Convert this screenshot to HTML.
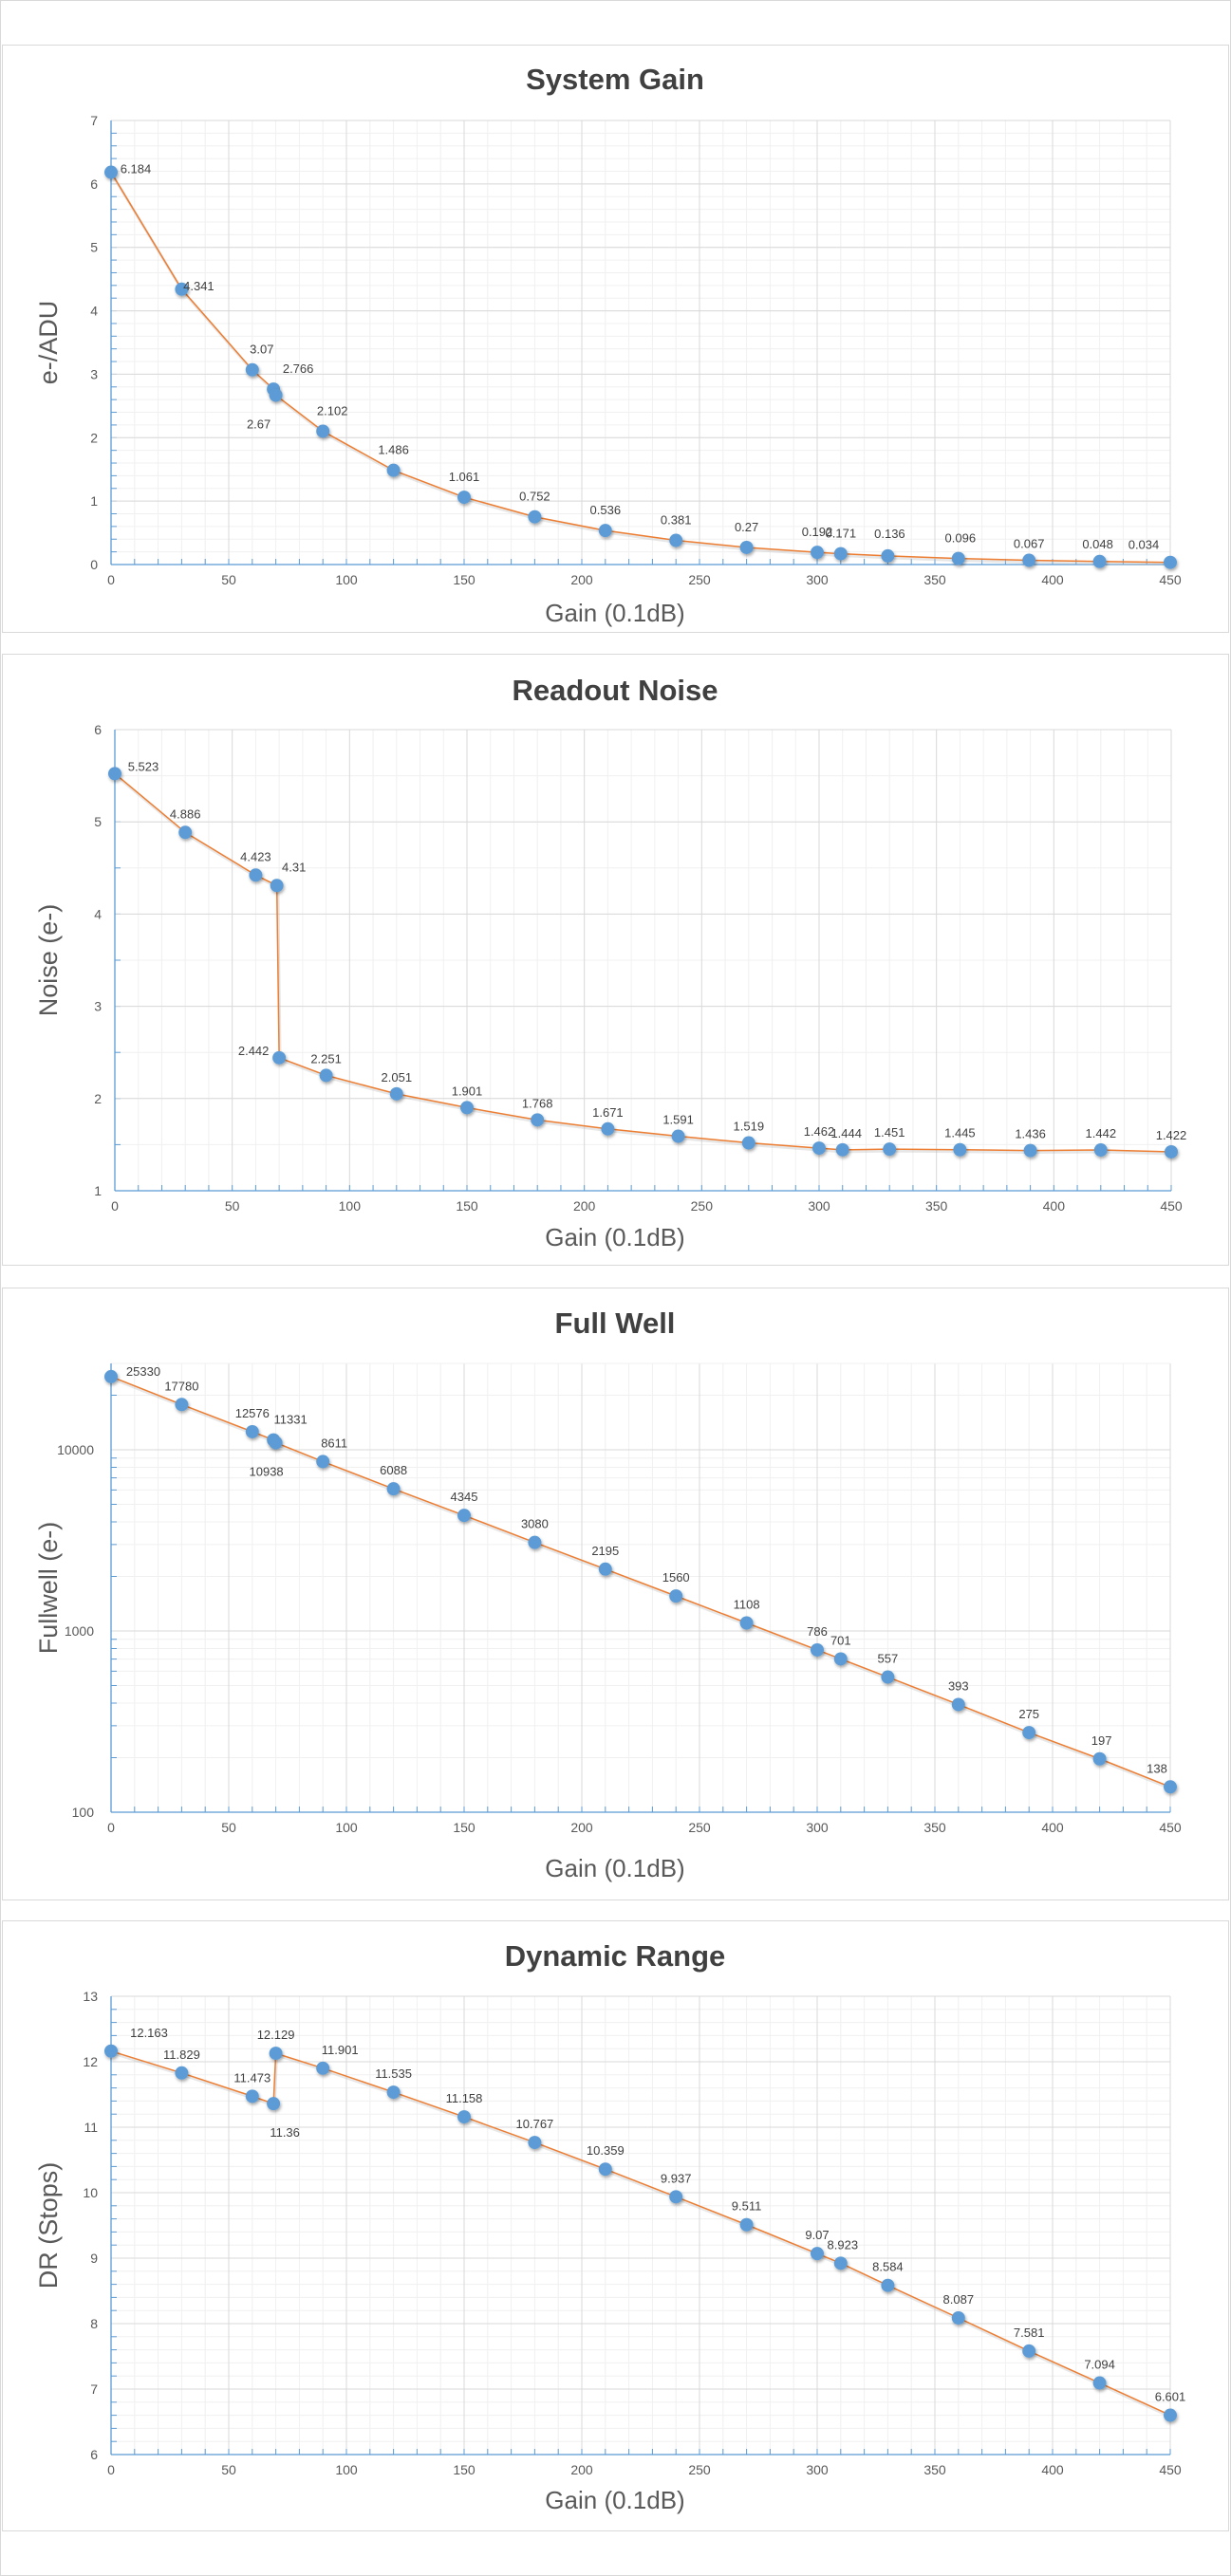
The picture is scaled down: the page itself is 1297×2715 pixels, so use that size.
<!DOCTYPE html>
<html><head><meta charset="utf-8"><style>
html,body{margin:0;padding:0;background:#fff;}
svg{display:block;}
</style></head><body>
<svg id="s" width="1297" height="2715" xmlns="http://www.w3.org/2000/svg" font-family="Liberation Sans, sans-serif"></svg>
<script>
const s=document.getElementById('s');
let h='';
h+='<defs><filter id="sh" x="-50%" y="-50%" width="200%" height="200%"><feDropShadow dx="1" dy="2" stdDeviation="1.5" flood-color="#000" flood-opacity="0.35"/></filter></defs>';
const panels=[[47,666],[689,1333],[1357,2002],[2024,2667]];
h+='<rect x="0.5" y="0.5" width="1296" height="2714" fill="none" stroke="#d9d9d9"/>';
panels.forEach(p=>{h+=`<rect x="2.5" y="${p[0]+.5}" width="1292" height="${p[1]-p[0]}" fill="#fff" stroke="#d9d9d9"/>`;});
const X=[0,30,60,69,70,90,120,150,180,210,240,270,300,310,330,360,390,420,450];
const charts=[
 {title:'System Gain',ty:83,yl:'e-/ADU',xl:646,x0:117,x1:1233,yt:127,yb:595,min:0,max:7,maj:1,mn:0.2,
  v:[6.184,4.341,3.07,2.766,2.67,2.102,1.486,1.061,0.752,0.536,0.381,0.27,0.192,0.171,0.136,0.096,0.067,0.048,0.034],
  off:[[26,-4],[18,-4],[10,-22],[26,-22],[-18,30],[10,-22],[0,-22],[0,-22],[0,-22],[0,-22],[0,-22],[0,-22],[0,-22],[0,-22],[2,-24],[2,-22],[0,-18],[-2,-19],[-28,-19]]},
 {title:'Readout Noise',ty:727,yl:'Noise (e-)',xl:1304,x0:121,x1:1234,yt:769,yb:1255,min:1,max:6,maj:1,mn:0.5,
  v:[5.523,4.886,4.423,4.31,2.442,2.251,2.051,1.901,1.768,1.671,1.591,1.519,1.462,1.444,1.451,1.445,1.436,1.442,1.422],
  off:[[30,-8],[0,-20],[0,-20],[18,-20],[-27,-8],[0,-18],[0,-18],[0,-18],[0,-18],[0,-18],[0,-18],[0,-18],[0,-18],[4,-18],[0,-18],[0,-18],[0,-18],[0,-18],[0,-18]]},
 {title:'Full Well',ty:1394,yl:'Fullwell (e-)',xl:1969,x0:117,x1:1233,yt:1437,yb:1910,log:true,
  v:[25330,17780,12576,11331,10938,8611,6088,4345,3080,2195,1560,1108,786,701,557,393,275,197,138],
  off:[[34,-6],[0,-20],[0,-20],[18,-22],[-10,30],[12,-20],[0,-20],[0,-20],[0,-20],[0,-20],[0,-20],[0,-20],[0,-20],[0,-20],[0,-20],[0,-20],[0,-20],[2,-20],[-14,-20]]},
 {title:'Dynamic Range',ty:2061,yl:'DR (Stops)',xl:2635,x0:117,x1:1233,yt:2104,yb:2587,min:6,max:13,maj:1,mn:0.2,
  v:[12.163,11.829,11.473,11.36,12.129,11.901,11.535,11.158,10.767,10.359,9.937,9.511,9.07,8.923,8.584,8.087,7.581,7.094,6.601],
  off:[[40,-20],[0,-20],[0,-20],[12,30],[0,-20],[18,-20],[0,-20],[0,-20],[0,-20],[0,-20],[0,-20],[0,-20],[0,-20],[2,-20],[0,-20],[0,-20],[0,-20],[0,-20],[0,-20]]}
];
charts.forEach(c=>{
 const xs=x=>c.x0+(c.x1-c.x0)*x/450;
 let ys;
 if(c.log){const y2=1910,y4=1528;ys=v=>y2+(Math.log10(v)-2)*(y4-y2)/2;}
 else ys=v=>c.yb-(v-c.min)*(c.yb-c.yt)/(c.max-c.min);
 for(let x=10;x<=450;x+=10){if(x%50)h+=`<line x1="${xs(x)}" y1="${c.yt}" x2="${xs(x)}" y2="${c.yb}" stroke="#f0f0f0" stroke-width="1"/>`;}
 if(c.log){
  for(let d=100;d<=10000;d*=10)for(let k=2;k<=9;k++){const y=ys(d*k);if(y>=c.yt)h+=`<line x1="${c.x0}" y1="${y}" x2="${c.x1}" y2="${y}" stroke="#f0f0f0"/><line x1="${c.x0}" y1="${y}" x2="${c.x0+6}" y2="${y}" stroke="#5b9bd5"/>`;}
 } else {
  for(let v=c.min;v<=c.max+1e-9;v+=c.mn){const y=ys(v);h+=`<line x1="${c.x0}" y1="${y}" x2="${c.x1}" y2="${y}" stroke="#f0f0f0"/><line x1="${c.x0}" y1="${y}" x2="${c.x0+6}" y2="${y}" stroke="#5b9bd5"/>`;}
 }
 for(let x=50;x<=450;x+=50)h+=`<line x1="${xs(x)}" y1="${c.yt}" x2="${xs(x)}" y2="${c.yb}" stroke="#d9d9d9"/>`;
 if(c.log){[100,1000,10000].forEach(v=>{const y=ys(v);h+=`<line x1="${c.x0}" y1="${y}" x2="${c.x1}" y2="${y}" stroke="#d9d9d9"/><text x="${c.x0-18}" y="${y+5}" font-size="14" fill="#595959" text-anchor="end">${v}</text>`;});
  h+=`<line x1="${c.x0}" y1="${c.yt}" x2="${c.x1}" y2="${c.yt}" stroke="#f0f0f0"/>`;}
 else for(let v=c.min;v<=c.max;v+=c.maj){const y=ys(v);h+=`<line x1="${c.x0}" y1="${y}" x2="${c.x1}" y2="${y}" stroke="#d9d9d9"/><text x="${c.x0-14}" y="${y+5}" font-size="14" fill="#595959" text-anchor="end">${v}</text>`;}
 h+=`<line x1="${c.x0}" y1="${c.yt}" x2="${c.x0}" y2="${c.yb}" stroke="#5b9bd5" stroke-width="1.3"/>`;
 h+=`<line x1="${c.x0}" y1="${c.yb}" x2="${c.x1}" y2="${c.yb}" stroke="#5b9bd5" stroke-width="1.3"/>`;
 for(let x=0;x<=450;x+=10)h+=`<line x1="${xs(x)}" y1="${c.yb}" x2="${xs(x)}" y2="${c.yb-6}" stroke="#5b9bd5"/>`;
 for(let x=0;x<=450;x+=50)h+=`<text x="${xs(x)}" y="${c.yb+21}" font-size="14" fill="#595959" text-anchor="middle">${x}</text>`;
 h+=`<text x="648" y="${c.ty+11}" font-size="31" font-weight="bold" fill="#404040" text-anchor="middle">${c.title}</text>`;
 h+=`<text x="648" y="${c.xl+9}" font-size="26" fill="#595959" text-anchor="middle">Gain (0.1dB)</text>`;
 const ym=(c.yt+c.yb)/2;
 h+=`<text x="0" y="0" transform="translate(60 ${ym}) rotate(-90)" font-size="27" fill="#595959" text-anchor="middle">${c.yl}</text>`;
 const pts=X.map((x,i)=>`${xs(x)},${ys(c.v[i])}`).join(' ');
 h+=`<polyline points="${pts}" fill="none" stroke="#bbb" stroke-width="3" opacity="0.35" transform="translate(1 2)"/>`;
 h+=`<polyline points="${pts}" fill="none" stroke="#ed7d31" stroke-width="1.5"/>`;
 X.forEach((x,i)=>{h+=`<circle cx="${xs(x)}" cy="${ys(c.v[i])}" r="7" fill="#5b9bd5" filter="url(#sh)"/>`;});
 X.forEach((x,i)=>{const o=c.off[i];h+=`<text x="${xs(x)+o[0]}" y="${ys(c.v[i])+o[1]+5}" font-size="13" fill="#404040" text-anchor="middle">${c.v[i]}</text>`;});
});
s.innerHTML=h;
</script>
</body></html>
